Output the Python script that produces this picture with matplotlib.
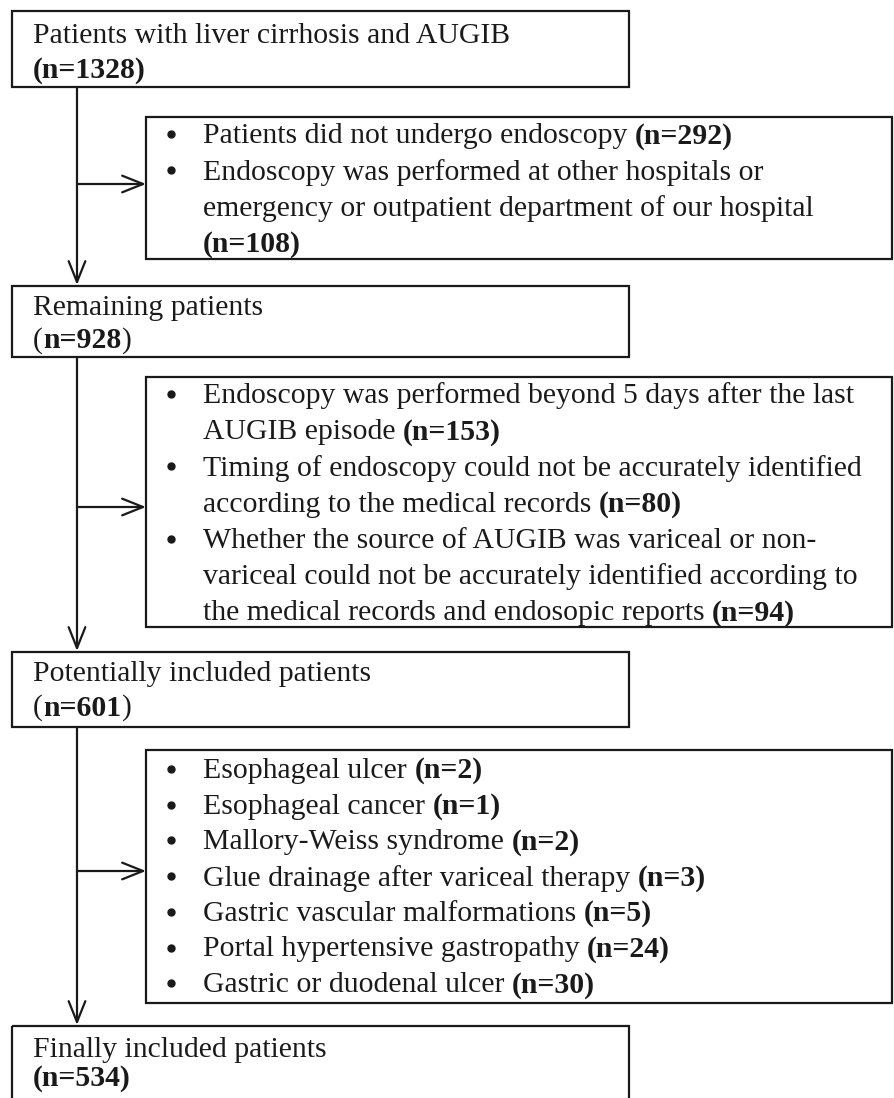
import matplotlib.pyplot as plt
from matplotlib.patches import Rectangle

plt.rcParams["font.family"] = ["Liberation Serif", "DejaVu Serif"]

# flow counts
total_n = 1328
remaining_n = 928
potential_n = 601
final_n = 534

excl_no_endo = [
    ("Patients did not undergo endoscopy", 292),
    ("Endoscopy was performed at other hospitals or emergency or outpatient department of our hospital", 108),
]
excl_timing = [
    ("Endoscopy was performed beyond 5 days after the last AUGIB episode", 153),
    ("Timing of endoscopy could not be accurately identified according to the medical records", 80),
    ("Whether the source of AUGIB was variceal or non-variceal could not be accurately identified "
     "according to the medical records and endosopic reports", 94),
]
excl_source = [
    ("Esophageal ulcer", 2),
    ("Esophageal cancer", 1),
    ("Mallory-Weiss syndrome", 2),
    ("Glue drainage after variceal therapy", 3),
    ("Gastric vascular malformations", 5),
    ("Portal hypertensive gastropathy", 24),
    ("Gastric or duodenal ulcer", 30),
]

# line breaks as in the figure (text lines for each bullet)
wrap_no_endo = [
    ["Patients did not undergo endoscopy "],
    ["Endoscopy was performed at other hospitals or",
     "emergency or outpatient department of our hospital", ""],
]
wrap_timing = [
    ["Endoscopy was performed beyond 5 days after the last", "AUGIB episode "],
    ["Timing of endoscopy could not be accurately identified",
     "according to the medical records "],
    ["Whether the source of AUGIB was variceal or non-",
     "variceal could not be accurately identified according to",
     "the medical records and endosopic reports "],
]

W, H = 894, 1098
FS = 21.4
INK = "#1a1a1a"

fig = plt.figure(figsize=(W / 100, H / 100), dpi=100)
ax = fig.add_axes([0, 0, 1, 1])
ax.set_xlim(0, W)
ax.set_ylim(H, 0)
ax.axis("off")
renderer = fig.canvas.get_renderer()


def rich_line(x, y, segments):
    for txt, bold in segments:
        if not txt:
            continue
        t = ax.text(x, y, txt, fontsize=FS, color=INK, va="center", ha="left",
                    fontweight="bold" if bold else "normal")
        x += t.get_window_extent(renderer).width


def bullet(y):
    # dot sits at mid x-height of the text line
    ax.plot([171], [y - 2], "o", ms=5, color=INK)


def box(x0, y0, x1, y1):
    ax.add_patch(Rectangle((x0, y0), x1 - x0, y1 - y0, fill=False,
                           edgecolor=INK, lw=1.6))


def arrow(x0, y0, x1, y1):
    ax.annotate("", xy=(x1, y1), xytext=(x0, y0),
                arrowprops=dict(arrowstyle="->,head_length=1.5,head_width=0.6",
                                color=INK, lw=1.6, shrinkA=0, shrinkB=0))


def count_seg(n, bold_parens=True):
    if bold_parens:
        return [(f"(n={n})", True)]
    return [("(", False), (f"n={n}", True), (")", False)]


TX = 33
BTX = 203
VX = 77
MR = 629
ER = 892
EL = 146

# main boxes
main = [
    (11, 87, "Patients with liver cirrhosis and AUGIB", total_n, True, 36, 70),
    (286, 357, "Remaining patients", remaining_n, False, 308, 341),
    (652, 727, "Potentially included patients", potential_n, False, 674, 708),
    (1026, 1115, "Finally included patients", final_n, True, 1050, 1078),
]
for y0, y1, label, n, bp, ty1, ty2 in main:
    box(12, y0, MR, y1)
    rich_line(TX, ty1, [(label, False)])
    rich_line(TX, ty2, count_seg(n, bp))

# vertical arrows
arrow(VX, 87, VX, 285)
arrow(VX, 357, VX, 651)
arrow(VX, 727, VX, 1025)

# exclusion boxes
excl_boxes = [
    (117, 259, 184, excl_no_endo, wrap_no_endo, 136),
    (377, 627, 507, excl_timing, wrap_timing, 396),
]
LS = 36.2
for y0, y1, ya, items, wraps, ystart in excl_boxes:
    box(EL, y0, ER, y1)
    arrow(VX, ya, EL, ya)
    y = ystart
    for (label, n), lines in zip(items, wraps):
        bullet(y)
        for i, ln in enumerate(lines):
            segs = [(ln, False)]
            if i == len(lines) - 1:
                segs.append((f"(n={n})", True))
            rich_line(BTX, y, segs)
            y += LS

box(EL, 750, ER, 1003)
arrow(VX, 871, EL, 871)
for i, (label, n) in enumerate(excl_source):
    y = 771 + i * 35.7
    bullet(y)
    rich_line(BTX, y, [(label + " ", False), (f"(n={n})", True)])

fig.savefig("out.png", dpi=100)
